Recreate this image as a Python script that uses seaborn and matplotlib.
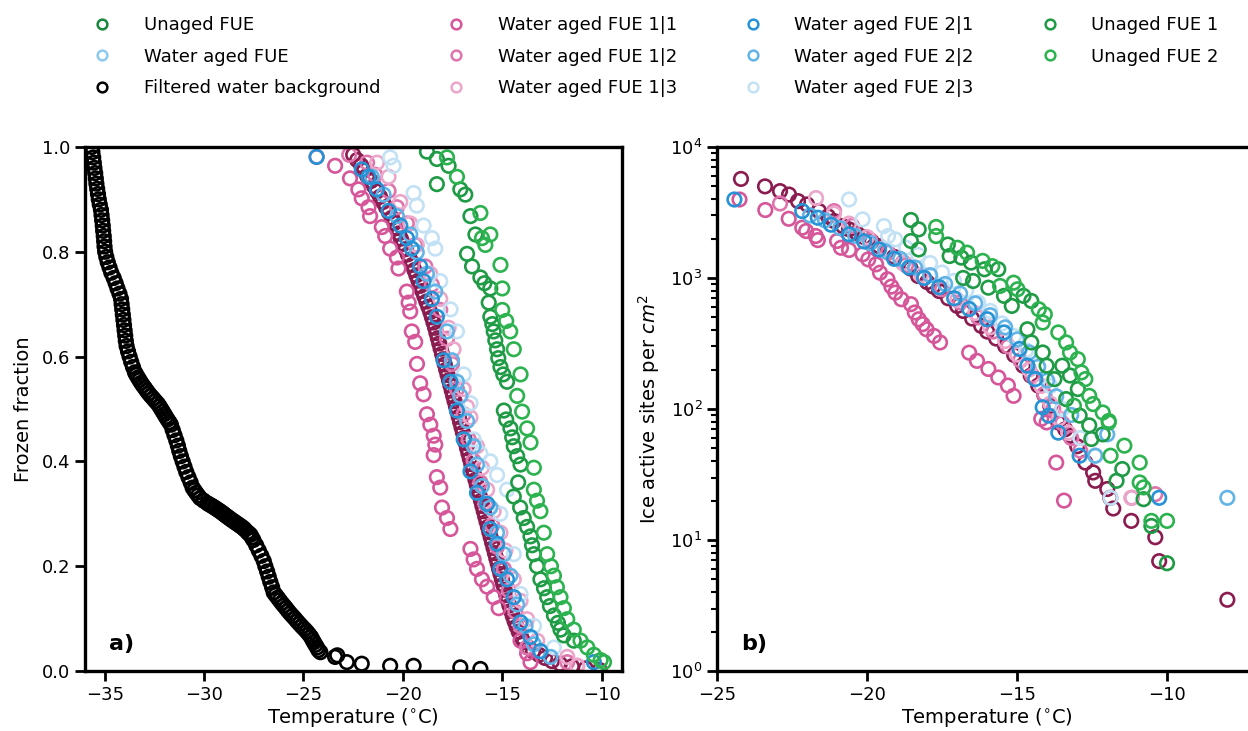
import matplotlib
matplotlib.use("Agg")
import matplotlib.pyplot as plt
from matplotlib.lines import Line2D
import seaborn as sns

# ---- legend / colours ----
legend_labels = ["Unaged FUE", "Water aged FUE", "Filtered water background",
                 "Water aged FUE 1|1", "Water aged FUE 1|2", "Water aged FUE 1|3",
                 "Water aged FUE 2|1", "Water aged FUE 2|2", "Water aged FUE 2|3",
                 "Unaged FUE 1", "Unaged FUE 2"]
legend_colors = ["#17873b", "#8ccbee", "#000000",
                 "#d6569a", "#de74ac", "#eba6ca",
                 "#2593d6", "#62b4e7", "#c2e1f5",
                 "#1f9a45", "#2cb24f"]
maroon = "#8b1c50"

# ---- panel a: frozen fraction ----
bg_T = [-35.65, -35.62, -35.58, -35.55, -35.52, -35.48, -35.45, -35.42, -35.38, -35.34,
        -35.30, -35.25, -35.19, -35.16, -35.13, -35.10, -35.08, -35.05, -35.03, -35.01,
        -34.98, -34.92, -34.85, -34.76, -34.67, -34.55, -34.45, -34.36, -34.26, -34.18,
        -34.15, -34.12, -34.09, -34.06, -34.03, -34.00, -33.97, -33.94, -33.90, -33.83,
        -33.75, -33.67, -33.58, -33.48, -33.41, -33.33, -33.25, -33.17, -33.08, -32.98,
        -32.89, -32.79, -32.68, -32.56, -32.45, -32.33, -32.24, -32.16, -32.08, -32.00,
        -31.92, -31.84, -31.75, -31.67, -31.58, -31.49, -31.40, -31.32, -31.25, -31.17,
        -31.08, -30.99, -30.90, -30.79, -30.68, -30.58, -30.49, -30.40, -30.30, -30.20,
        -30.02, -29.83, -29.72, -29.60, -29.50, -29.40, -29.30, -29.20, -29.11, -29.02,
        -28.94, -28.85, -28.76, -28.67, -28.58, -28.48, -28.39, -28.29, -28.20, -28.10,
        -28.02, -27.95, -27.82, -27.75, -27.67, -27.60, -27.52, -27.38, -27.25, -27.12,
        -27.00, -26.92, -26.83, -26.75, -26.67, -26.58, -26.50, -26.40, -26.30, -26.20,
        -26.10, -25.99, -25.88, -25.78, -25.67, -25.55, -25.43, -25.32, -25.20, -25.08,
        -24.95, -24.83, -24.72, -24.62, -24.55, -24.48, -24.40, -24.32, -24.25, -24.15,
        -23.30, -23.41, -22.82, -22.07, -20.64, -19.46, -17.11, -16.10]
bg_FF = [1.000, 0.990, 0.980, 0.970, 0.960, 0.950, 0.940, 0.930, 0.920, 0.910,
         0.900, 0.890, 0.880, 0.870, 0.860, 0.850, 0.840, 0.830, 0.820, 0.810,
         0.800, 0.790, 0.780, 0.770, 0.760, 0.750, 0.740, 0.730, 0.720, 0.710,
         0.700, 0.690, 0.680, 0.670, 0.660, 0.650, 0.640, 0.630, 0.620, 0.610,
         0.600, 0.590, 0.580, 0.570, 0.565, 0.560, 0.555, 0.550, 0.545, 0.540,
         0.535, 0.530, 0.525, 0.520, 0.515, 0.510, 0.505, 0.500, 0.495, 0.490,
         0.485, 0.480, 0.475, 0.470, 0.460, 0.450, 0.440, 0.430, 0.420, 0.410,
         0.400, 0.390, 0.380, 0.370, 0.360, 0.350, 0.345, 0.340, 0.335, 0.330,
         0.325, 0.320, 0.3175, 0.315, 0.3125, 0.310, 0.3075, 0.305, 0.3025, 0.300,
         0.2975, 0.295, 0.2925, 0.290, 0.2875, 0.285, 0.2825, 0.280, 0.2775, 0.275,
         0.2725, 0.270, 0.265, 0.2625, 0.260, 0.255, 0.250, 0.240, 0.230, 0.220,
         0.210, 0.200, 0.190, 0.180, 0.170, 0.160, 0.150, 0.145, 0.140, 0.135,
         0.130, 0.125, 0.120, 0.115, 0.110, 0.105, 0.100, 0.095, 0.090, 0.085,
         0.080, 0.075, 0.070, 0.065, 0.060, 0.055, 0.050, 0.045, 0.040, 0.036,
         0.030, 0.027, 0.017, 0.014, 0.010, 0.010, 0.007, 0.004]

mar_T = [-22.50, -22.30, -22.10, -21.95, -21.80, -21.60, -21.45, -21.30, -21.15, -21.00,
         -20.85, -20.70, -20.55, -20.42, -20.30, -20.20, -20.10, -19.98, -19.86, -19.75,
         -19.63, -19.52, -19.42, -19.32, -19.22, -19.12, -19.02, -18.92, -18.82, -18.72,
         -18.62, -18.54, -18.46, -18.38, -18.31, -18.24, -18.17, -18.10, -18.03, -17.96,
         -17.89, -17.82, -17.75, -17.68, -17.61, -17.54, -17.47, -17.40, -17.33, -17.26,
         -17.19, -17.12, -17.05, -16.98, -16.91, -16.84, -16.77, -16.70, -16.63, -16.56,
         -16.49, -16.42, -16.35, -16.28, -16.21, -16.14, -16.07, -16.00, -15.93, -15.86,
         -15.79, -15.72, -15.65, -15.58, -15.51, -15.44, -15.37, -15.30, -15.23, -15.16,
         -15.09, -15.02, -14.95, -14.88, -14.80, -14.72, -14.64, -14.56, -14.47, -14.38,
         -14.28, -14.17, -14.05, -13.90, -13.70, -13.45, -13.15, -12.85, -12.50, -12.10,
         -11.50, -10.80, -10.10]
mar_FF = [0.985, 0.975, 0.965, 0.955, 0.945, 0.935, 0.925, 0.915, 0.905, 0.895,
          0.885, 0.875, 0.865, 0.855, 0.845, 0.835, 0.825, 0.815, 0.805, 0.795,
          0.785, 0.775, 0.765, 0.755, 0.745, 0.735, 0.725, 0.715, 0.705, 0.695,
          0.685, 0.675, 0.665, 0.655, 0.645, 0.635, 0.625, 0.615, 0.605, 0.595,
          0.585, 0.575, 0.565, 0.555, 0.545, 0.535, 0.525, 0.515, 0.505, 0.495,
          0.485, 0.475, 0.465, 0.455, 0.445, 0.435, 0.425, 0.415, 0.405, 0.395,
          0.385, 0.375, 0.365, 0.355, 0.345, 0.335, 0.325, 0.315, 0.305, 0.295,
          0.285, 0.275, 0.265, 0.255, 0.245, 0.235, 0.225, 0.215, 0.205, 0.195,
          0.185, 0.175, 0.165, 0.155, 0.145, 0.135, 0.125, 0.115, 0.105, 0.095,
          0.085, 0.075, 0.065, 0.055, 0.045, 0.038, 0.031, 0.025, 0.019, 0.014,
          0.009, 0.005, 0.002]

w11_T = [-24.34, -23.41, -22.66, -22.24, -22.07, -21.73, -21.65, -21.06, -20.89, -20.64,
         -20.30, -20.22, -19.80, -19.71, -19.63, -19.55, -19.38, -19.29, -19.13, -18.96,
         -18.79, -18.62, -18.45, -18.37, -18.45, -18.29, -18.12, -18.03, -17.78, -17.61,
         -16.60, -16.44, -16.27, -16.02, -15.76, -15.43, -15.18, -14.08, -13.75, -13.58]
w11_FF = [0.981, 0.964, 0.940, 0.919, 0.902, 0.885, 0.868, 0.847, 0.830, 0.806,
          0.789, 0.768, 0.724, 0.703, 0.686, 0.648, 0.628, 0.586, 0.549, 0.528,
          0.490, 0.470, 0.449, 0.432, 0.412, 0.370, 0.350, 0.312, 0.292, 0.271,
          0.233, 0.213, 0.195, 0.175, 0.161, 0.141, 0.120, 0.058, 0.034, 0.017]

w12_T = [-22.70, -21.80, -21.40, -20.72, -20.30, -19.80, -19.38, -18.87, -18.54, -18.12,
         -17.78, -17.53, -17.28, -16.94, -16.69, -16.44, -16.10, -15.85, -15.51, -15.26,
         -14.92, -14.67, -14.34, -14.08, -13.75, -11.73, -11.23]
w12_FF = [0.985, 0.970, 0.947, 0.916, 0.885, 0.854, 0.813, 0.772, 0.737, 0.689,
          0.634, 0.586, 0.538, 0.490, 0.442, 0.401, 0.360, 0.319, 0.278, 0.237,
          0.195, 0.154, 0.113, 0.086, 0.045, 0.017, 0.010]

w13_T = [-21.30, -20.72, -20.13, -19.63, -19.30, -18.62, -18.12, -17.70, -17.45, -16.94,
         -16.77, -16.60, -16.27, -16.02, -15.76, -15.43, -15.09, -14.84, -14.42, -14.08,
         -13.75, -13.24, -11.73, -11.23]
w13_FF = [0.970, 0.943, 0.895, 0.854, 0.813, 0.758, 0.710, 0.655, 0.614, 0.538,
          0.504, 0.484, 0.429, 0.388, 0.346, 0.305, 0.264, 0.230, 0.175, 0.134,
          0.099, 0.058, 0.027, 0.010]

w21_T = [-24.34, -22.07, -21.73, -21.31, -20.72, -20.13, -19.80, -19.55, -19.13, -18.96,
         -18.54, -18.29, -17.95, -17.61, -17.28, -16.94, -16.60, -16.27, -15.76, -15.60,
         -15.26, -15.09, -14.76, -14.42, -14.08, -13.58, -13.08, -10.39]
w21_FF = [0.981, 0.957, 0.943, 0.919, 0.878, 0.850, 0.826, 0.806, 0.772, 0.744,
          0.710, 0.676, 0.593, 0.552, 0.497, 0.442, 0.381, 0.340, 0.319, 0.271,
          0.243, 0.195, 0.175, 0.141, 0.093, 0.065, 0.038, 0.017]

w22_T = [-21.56, -20.97, -20.30, -19.63, -19.30, -18.79, -18.37, -17.78, -17.53, -17.28,
         -17.11, -16.77, -16.44, -16.27, -16.02, -15.60, -15.26, -14.92, -14.59, -14.25,
         -13.83, -13.41, -12.57]
w22_FF = [0.943, 0.909, 0.868, 0.833, 0.799, 0.758, 0.724, 0.648, 0.593, 0.552,
          0.525, 0.477, 0.429, 0.394, 0.353, 0.312, 0.264, 0.223, 0.182, 0.127,
          0.086, 0.051, 0.027]

w23_T = [-20.64, -20.47, -19.46, -19.30, -18.96, -18.54, -18.37, -18.12, -17.60, -17.28,
         -16.94, -16.60, -16.44, -16.10, -15.60, -15.26, -14.76, -15.10, -14.42, -14.08,
         -13.40, -12.40]
w23_FF = [0.980, 0.964, 0.912, 0.888, 0.850, 0.826, 0.806, 0.744, 0.690, 0.648,
          0.566, 0.511, 0.442, 0.415, 0.400, 0.374, 0.346, 0.300, 0.223, 0.147,
          0.086, 0.045]

u1_T = [-18.79, -18.29, -17.70, -18.29, -17.11, -16.86, -16.60, -16.35, -16.77, -16.52,
        -16.10, -15.90, -15.60, -15.68, -15.60, -15.50, -15.43, -15.35, -15.26, -15.20,
        -15.09, -14.95, -14.76, -14.92, -14.80, -14.59, -14.50, -14.42, -14.25, -14.08,
        -14.20, -14.42, -14.10, -13.92, -13.75, -13.58, -13.50, -13.41, -13.25, -13.08,
        -12.90, -12.74, -12.60, -12.40, -12.20, -12.07, -11.90, -11.40]
u1_FF = [0.991, 0.977, 0.964, 0.929, 0.919, 0.909, 0.868, 0.833, 0.796, 0.772,
         0.751, 0.740, 0.730, 0.703, 0.676, 0.662, 0.648, 0.631, 0.614, 0.597,
         0.580, 0.566, 0.552, 0.497, 0.480, 0.463, 0.446, 0.429, 0.410, 0.394,
         0.360, 0.333, 0.312, 0.292, 0.275, 0.257, 0.240, 0.223, 0.200, 0.175,
         0.158, 0.141, 0.124, 0.106, 0.092, 0.079, 0.068, 0.058]

u2_T = [-17.78, -17.28, -16.10, -16.02, -15.60, -15.85, -15.09, -15.00, -15.00, -14.80,
        -14.60, -14.42, -14.08, -14.25, -14.00, -13.75, -13.58, -13.41, -13.41, -13.25,
        -13.08, -12.91, -12.74, -12.55, -12.40, -12.25, -12.07, -11.90, -11.73, -11.40,
        -11.06, -10.72, -10.39, -10.05, -9.88]
u2_FF = [0.980, 0.943, 0.874, 0.826, 0.833, 0.813, 0.775, 0.730, 0.689, 0.668,
         0.648, 0.614, 0.566, 0.525, 0.495, 0.463, 0.436, 0.388, 0.346, 0.325,
         0.305, 0.264, 0.223, 0.200, 0.182, 0.160, 0.141, 0.120, 0.099, 0.079,
         0.058, 0.045, 0.031, 0.021, 0.017]

# ---- panel b: ice active sites per cm2 ----
mar_Tb = [-24.2, -23.4, -22.9, -22.6, -22.3, -22.0, -21.6, -21.3, -21.1, -20.8,
          -20.6, -20.35, -20.1, -19.85, -19.6, -19.35, -19.1, -18.8, -18.55, -18.3,
          -18.0, -17.8, -17.6, -17.3, -17.0, -16.8, -16.5, -16.2, -16.0, -15.7,
          -15.4, -15.1, -14.8, -14.55, -14.3, -14.1, -13.9, -13.63, -13.4, -13.24,
          -13.0, -12.73, -12.47, -12.4, -12.0, -11.9, -11.8, -11.2, -10.4, -10.27, -8.0]
mar_INAS = [5700, 5000, 4600, 4330, 3860, 3640, 3240, 2950, 2720, 2480,
            2350, 2210, 2050, 1900, 1750, 1600, 1450, 1310, 1180, 1035,
            930, 860, 795, 700, 612, 560, 490, 431, 390, 345,
            302, 258, 214, 180, 151, 128, 106, 79, 70, 62.5,
            52, 39, 32.8, 28.3, 24.5, 21, 17.4, 14, 10.5, 6.9, 3.5]

w11_Tb = [-24.25, -23.39, -22.61, -22.16, -22.03, -21.71, -21.64, -21.0, -20.87, -20.6,
          -20.15, -19.96, -19.7, -19.57, -19.32, -19.19, -19.06, -18.86, -18.54, -18.41,
          -18.28, -18.15, -18.02, -17.77, -17.57, -16.6, -16.34, -15.96, -15.63, -15.31,
          -15.12, -14.2, -14.02, -13.7, -13.44]
w11_INAS = [3970, 3300, 2830, 2420, 2280, 2090, 1945, 1915, 1700, 1635,
            1515, 1385, 1270, 1097, 977, 859, 773, 688, 631, 545,
            484, 444, 406, 361, 322, 269, 233, 202, 174, 151,
            126, 84, 79, 39, 20]

w12_Tb = [-22.9, -21.1, -20.5, -19.9, -19.3, -18.7, -18.1, -17.5, -16.9, -16.3,
          -15.8, -15.3, -14.9, -14.5, -14.1, -13.8, -13.5, -13.2, -12.9, -11.18, -10.4]
w12_INAS = [3700, 3240, 2500, 1950, 1560, 1250, 1000, 820, 650, 500,
            390, 300, 235, 180, 130, 100, 78, 60, 48, 21, 22.4]

w13_Tb = [-21.7, -21.1, -20.6, -20.0, -19.4, -18.8, -18.2, -17.6, -17.0, -16.4,
          -15.9, -15.4, -15.0, -14.6, -14.2, -13.9, -13.6, -13.3, -12.4, -11.2]
w13_INAS = [4070, 3100, 2600, 2050, 1650, 1300, 1050, 850, 680, 540,
            420, 330, 260, 200, 150, 110, 85, 66, 44, 21]

w21_Tb = [-24.42, -22.16, -21.64, -21.2, -20.6, -20.1, -19.6, -19.1, -18.6, -18.1,
          -17.6, -17.1, -16.6, -16.0, -15.44, -14.92, -14.66, -14.4, -14.15, -13.95,
          -13.63, -12.92, -10.27]
w21_INAS = [3970, 3240, 2880, 2550, 2150, 1900, 1650, 1400, 1200, 1000,
            850, 700, 580, 484, 384, 287, 214, 169, 103, 89,
            66, 44, 21]

w22_Tb = [-21.9, -21.4, -20.9, -20.4, -19.9, -19.4, -18.9, -18.4, -17.9, -17.4,
          -16.9, -16.4, -15.9, -15.4, -15.0, -14.6, -14.3, -14.0, -13.7, -13.2,
          -12.4, -12.0, -8.0]
w22_INAS = [3000, 2750, 2400, 2100, 1850, 1600, 1400, 1200, 1050, 900,
            760, 640, 520, 420, 340, 270, 210, 165, 125, 90,
            44, 64, 21]

w23_Tb = [-20.6, -20.15, -19.44, -19.3, -19.06, -18.7, -18.3, -17.9, -17.5, -17.1,
          -16.7, -16.3, -15.9, -15.5, -15.1, -14.7, -14.3, -13.9, -13.5, -12.9,
          -12.4, -11.89]
w23_INAS = [3970, 2800, 2490, 2090, 1970, 1700, 1500, 1300, 1100, 950,
            800, 650, 560, 450, 360, 280, 210, 150, 100, 60,
            44, 21]

u1_Tb = [-18.54, -18.28, -18.54, -18.28, -17.31, -17.25, -16.86, -16.54, -16.8, -16.47,
         -16.09, -15.96, -15.63, -15.44, -15.18, -14.79, -14.53, -14.66, -14.53, -14.15,
         -14.02, -13.76, -13.5, -13.24, -12.98, -13.37, -12.92, -12.6, -12.53, -12.15,
         -11.69, -11.5, -10.79, -10.53, -10.01]
u1_INAS = [2770, 2350, 1915, 1650, 1800, 1470, 1430, 1310, 1000, 948,
           1165, 843, 1165, 730, 612, 730, 668, 406, 322, 270,
           214, 169, 214, 180, 142, 119, 89, 75, 59, 64,
           28.3, 34.8, 20.5, 12.8, 6.65]

u2_Tb = [-17.7, -17.7, -16.99, -16.67, -16.15, -15.83, -15.57, -15.12, -14.99, -14.28,
         -14.08, -14.15, -13.63, -13.37, -13.24, -12.98, -12.86, -12.73, -12.6, -12.47,
         -12.15, -11.95, -13.11, -11.95, -11.89, -11.43, -10.92, -10.92, -10.79, -10.53,
         -10.01]
u2_INAS = [2450, 2090, 1700, 1560, 1350, 1230, 869, 920, 820, 577,
           528, 457, 384, 322, 270, 240, 190, 169, 126, 109,
           94, 81, 106, 79, 44, 52.5, 39, 27.5, 25.2, 14,
           14]

sns.set_style("ticks")
plt.rcParams["font.family"] = ["DejaVu Sans"]
plt.rcParams["mathtext.fontset"] = "dejavusans"
for key in ["text.color", "axes.labelcolor", "xtick.color", "ytick.color", "axes.edgecolor"]:
    plt.rcParams[key] = "black"

fig = plt.figure(figsize=(12.48, 7.31), dpi=100)
ax1 = fig.add_axes([0.068, 0.082, 0.430, 0.717])
ax2 = fig.add_axes([0.5745, 0.082, 0.433, 0.717])


def hollow(ax, x, y, color, z=2):
    sns.scatterplot(x=x, y=y, ax=ax, marker="o", s=95, color=color,
                    facecolor="none", edgecolor=color, linewidth=1.9, zorder=z)


# panel a
hollow(ax1, bg_T, bg_FF, legend_colors[2])
hollow(ax1, mar_T, mar_FF, maroon)
hollow(ax1, w11_T, w11_FF, legend_colors[3])
hollow(ax1, w12_T, w12_FF, legend_colors[4])
hollow(ax1, w13_T, w13_FF, legend_colors[5])
hollow(ax1, w23_T, w23_FF, legend_colors[8])
hollow(ax1, w22_T, w22_FF, legend_colors[7])
hollow(ax1, w21_T, w21_FF, legend_colors[6])
hollow(ax1, u1_T, u1_FF, legend_colors[9])
hollow(ax1, u2_T, u2_FF, legend_colors[10])

# panel b
hollow(ax2, mar_Tb, mar_INAS, maroon)
hollow(ax2, w11_Tb, w11_INAS, legend_colors[3])
hollow(ax2, w12_Tb, w12_INAS, legend_colors[4])
hollow(ax2, w13_Tb, w13_INAS, legend_colors[5])
hollow(ax2, w23_Tb, w23_INAS, legend_colors[8])
hollow(ax2, w22_Tb, w22_INAS, legend_colors[7])
hollow(ax2, w21_Tb, w21_INAS, legend_colors[6])
hollow(ax2, u1_Tb, u1_INAS, legend_colors[9])
hollow(ax2, u2_Tb, u2_INAS, legend_colors[10])

ax1.set_xlim(-36, -9)
ax1.set_ylim(0, 1)
ax1.set_xticks([-35, -30, -25, -20, -15, -10])
ax1.set_yticks([0.0, 0.2, 0.4, 0.6, 0.8, 1.0])
ax1.set_xlabel("Temperature ($^{\\circ}$C)", fontsize=14, labelpad=2)
ax1.set_ylabel("Frozen fraction", fontsize=14, labelpad=6)
ax1.text(0.045, 0.04, "a)", transform=ax1.transAxes, fontsize=16, fontweight="bold")

ax2.set_yscale("log")
ax2.set_xlim(-25, -7)
ax2.set_ylim(1, 1e4)
ax2.set_xticks([-25, -20, -15, -10])
ax2.set_xlabel("Temperature ($^{\\circ}$C)", fontsize=14, labelpad=2)
ax2.set_ylabel("Ice active sites per $cm^2$", fontsize=14, labelpad=6)
ax2.text(0.045, 0.04, "b)", transform=ax2.transAxes, fontsize=16, fontweight="bold")

for ax in (ax1, ax2):
    for sp in ax.spines.values():
        sp.set_visible(True)
        sp.set_linewidth(2.4)
        sp.set_color("black")
    ax.tick_params(which="major", direction="out", length=7, width=2, labelsize=13,
                   colors="black")
    ax.tick_params(which="minor", direction="out", length=4, width=1.5, colors="black")
    ax.tick_params(top=False, right=False)

handles = [Line2D([], [], marker="o", linestyle="", markersize=7,
                  markerfacecolor="none", markeredgecolor=c, markeredgewidth=1.8)
           for c in legend_colors]
fig.legend(handles, legend_labels, ncol=4, loc="upper center",
           bbox_to_anchor=(0.522, 1.0), frameon=False, fontsize=13,
           handletextpad=1.3, columnspacing=3.2, labelspacing=0.75)

fig.savefig("out.png", dpi=100)
